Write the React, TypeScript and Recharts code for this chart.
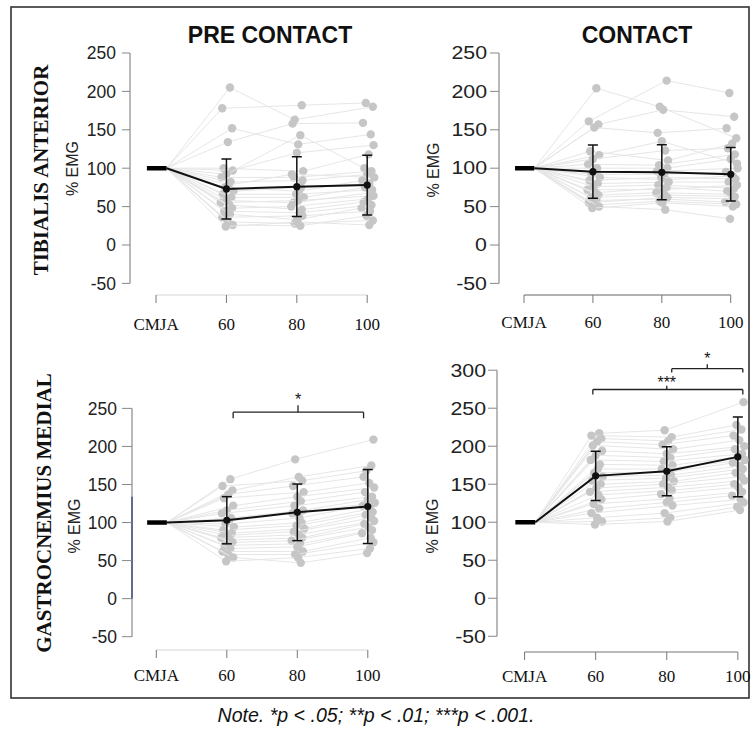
import React from "react";
import {
  ComposedChart,
  ReferenceDot,
  ReferenceLine,
  Scatter,
  XAxis,
  YAxis,
} from "recharts";

// ---- data ----
const X_LABELS = ["CMJA", "60", "80", "100"];
const Y_TICKS = [-50, 0, 50, 100, 150, 200, 250];
const Y_TICKS_GM_CON = [-50, 0, 50, 100, 150, 200, 250, 300];

// individual subjects (% EMG relative to CMJA = 100)
const TA_PRE_60 = [205, 178, 152, 134, 100, 97, 92, 88, 82, 78, 75, 70, 66, 62, 58, 55, 52, 48, 44, 40, 36, 30, 26, 24];
const TA_PRE_80 = [163, 182, 131, 158, 96, 120, 143, 88, 84, 92, 70, 75, 66, 62, 55, 58, 46, 50, 42, 33, 38, 28, 25, 30];
const TA_PRE_100 = [180, 185, 144, 159, 118, 130, 100, 96, 92, 88, 84, 80, 72, 75, 68, 64, 56, 60, 52, 48, 44, 32, 38, 26];

const TA_CON_60 = [204, 161, 157, 153, 122, 117, 112, 105, 100, 96, 92, 88, 84, 80, 76, 72, 68, 65, 62, 58, 55, 52, 50, 48];
const TA_CON_80 = [180, 214, 176, 146, 110, 135, 123, 104, 100, 96, 92, 85, 88, 82, 78, 72, 75, 68, 65, 60, 62, 57, 46, 55];
const TA_CON_100 = [139, 198, 167, 152, 132, 106, 126, 118, 112, 100, 95, 90, 86, 82, 74, 78, 70, 66, 63, 56, 60, 53, 34, 50];

const GM_PRE_60 = [157, 148, 142, 137, 132, 122, 116, 112, 106, 102, 98, 94, 90, 86, 83, 80, 77, 74, 70, 66, 62, 58, 54, 49];
const GM_PRE_80 = [183, 155, 160, 148, 140, 134, 128, 122, 116, 112, 106, 100, 96, 92, 88, 84, 80, 76, 72, 68, 62, 58, 47, 54];
const GM_PRE_100 = [209, 168, 175, 160, 152, 146, 140, 134, 130, 126, 122, 118, 114, 110, 106, 102, 98, 94, 90, 86, 80, 74, 60, 66];

const GM_CON_60 = [217, 214, 210, 206, 201, 194, 188, 182, 176, 170, 165, 160, 155, 150, 145, 140, 136, 130, 124, 118, 112, 106, 101, 97];
const GM_CON_80 = [221, 212, 207, 202, 196, 190, 185, 180, 175, 170, 166, 162, 158, 154, 150, 146, 142, 137, 131, 126, 122, 112, 106, 101];
const GM_CON_100 = [258, 228, 222, 214, 208, 200, 196, 190, 186, 182, 178, 174, 170, 165, 160, 155, 150, 146, 140, 135, 130, 126, 120, 116];

// horizontal spread of the grey dots (category units)
const JITTER_60 = [0.05, -0.06, 0.08, 0.02, -0.04, 0.09, 0.0, -0.07, 0.06, 0.03, -0.02, 0.1, -0.05, 0.07, 0.01, -0.08, 0.04, 0.08, -0.03, 0.05, -0.06, 0.02, 0.09, -0.01];
const JITTER_80 = [-0.03, 0.07, 0.02, -0.06, 0.09, 0.0, 0.05, -0.04, 0.08, -0.07, 0.03, 0.06, -0.01, 0.1, -0.05, 0.02, 0.07, -0.08, 0.04, 0.0, 0.08, -0.03, 0.05, 0.01];
const JITTER_100 = [0.08, -0.02, 0.05, -0.06, 0.02, 0.09, -0.04, 0.06, 0.0, 0.1, -0.07, 0.03, 0.07, -0.03, 0.05, 0.09, -0.05, 0.01, 0.06, -0.08, 0.04, 0.08, -0.01, 0.03];

// group mean and SD at 60 / 80 / 100
const TA_PRE_MEAN = [73, 76, 78];
const TA_PRE_SD = [39, 39, 39];
const TA_CON_MEAN = [95.5, 94.6, 92];
const TA_CON_SD = [34.7, 35.8, 34.8];
const GM_PRE_MEAN = [103, 113.4, 121];
const GM_PRE_SD = [31, 37.2, 48.6];
const GM_CON_MEAN = [161, 167, 186];
const GM_CON_SD = [32.5, 32.2, 52.6];

type Bracket = { x1: number; x2: number; xc: number; y: number; drop: number; rise: number; label: string; labelY: number };

const GM_PRE_BRACKETS: Bracket[] = [
  { x1: 1.09, x2: 2.94, xc: 2.01, y: 245, drop: 8, rise: 9, label: "*", labelY: 262 },
];
const GM_CON_BRACKETS: Bracket[] = [
  { x1: 0.96, x2: 3.07, xc: 2.0, y: 274.6, drop: 6.6, rise: 5, label: "***", labelY: 284 },
  { x1: 2.07, x2: 3.07, xc: 2.57, y: 302, drop: 5, rise: 6, label: "*", labelY: 316 },
];

const SANS = "'Liberation Sans', Arial, sans-serif";
const SERIF = "'Liberation Serif', 'Times New Roman', serif";

type PanelCfg = {
  plotLeft: number;
  plotTop: number;
  plotW: number;
  plotH: number;
  xDomain: [number, number];
  yDomain: [number, number];
  yTicks: number[];
  v60: number[];
  v80: number[];
  v100: number[];
  mean: number[];
  sd: number[];
  brackets: Bracket[];
  yTickSize: number;
  yTickMargin: number;
  xTickMargin: number;
  labelStretch: number;
  xAxisColor: string;
  blueMark?: boolean;
};

const LINE_START = 0.15;
const BAR_LEFT = -0.13;
const CAP_PX = 5;

function makeYTick(sx: number) {
  return (props: any) => {
    const { x, y, payload } = props;
    return (
      <text
        transform={`translate(${x},${y}) scale(${sx},1)`}
        textAnchor="end"
        dy="0.36em"
        fontSize={17.5}
        fontFamily={SANS}
        fill="#222"
      >
        {payload.value}
      </text>
    );
  };
}

const greyDot = (p: any) =>
  p.payload.x > 0.5 ? <circle cx={p.cx} cy={p.cy} r={4.2} fill="#c6c6c6" /> : <g />;
const noDot = () => <g />;
const meanDot = (p: any) => <circle cx={p.cx} cy={p.cy} r={3.6} fill="#111" />;

function Panel({ cfg }: { cfg: PanelCfg }) {
  const LEFT = 70;
  const TOP = 10;
  const RIGHT = 10;
  const XH = 45;
  const w = cfg.plotW + LEFT + RIGHT;
  const h = cfg.plotH + TOP + XH;
  const subjects = cfg.v60.map((_, i) => [
    { x: LINE_START, y: 100 },
    { x: 1 + JITTER_60[i], y: cfg.v60[i] },
    { x: 2 + JITTER_80[i], y: cfg.v80[i] },
    { x: 3 + JITTER_100[i], y: cfg.v100[i] },
  ]);
  const meanLine = [{ x: LINE_START, y: 100 }, ...cfg.mean.map((m, i) => ({ x: i + 1, y: m }))];
  const meanPts = cfg.mean.map((m, i) => ({ x: i + 1, y: m }));
  const [xmin, xmax] = cfg.xDomain;
  const [ymin] = cfg.yDomain;
  const cap = CAP_PX / (cfg.plotW / (xmax - xmin));
  const topTick = cfg.yTicks[cfg.yTicks.length - 1];
  const errSegs: { x: number; y: number }[][] = [];
  cfg.mean.forEach((m, i) => {
    const x = i + 1;
    const lo = m - cfg.sd[i];
    const hi = m + cfg.sd[i];
    errSegs.push([{ x, y: lo }, { x, y: hi }]);
    errSegs.push([{ x: x - cap, y: hi }, { x: x + cap, y: hi }]);
    errSegs.push([{ x: x - cap, y: lo }, { x: x + cap, y: lo }]);
  });

  return (
    <div style={{ position: "absolute", left: cfg.plotLeft - LEFT, top: cfg.plotTop - TOP }}>
      <ComposedChart width={w} height={h} margin={{ top: TOP, right: RIGHT, left: 0, bottom: 0 }}>
        <XAxis
          type="number"
          dataKey="x"
          domain={cfg.xDomain}
          allowDataOverflow
          ticks={[0, 1, 2, 3]}
          tickFormatter={(v: number) => X_LABELS[v]}
          axisLine={false}
          tickLine={{ stroke: "#777" }}
          tickSize={8}
          tickMargin={cfg.xTickMargin}
          height={XH}
          tick={{ fontFamily: SERIF, fontSize: 17, fill: "#111" }}
          interval={0}
        />
        <YAxis
          type="number"
          dataKey="y"
          domain={cfg.yDomain}
          allowDataOverflow
          ticks={cfg.yTicks}
          axisLine={false}
          tickLine={{ stroke: "#888" }}
          tickSize={cfg.yTickSize}
          tickMargin={cfg.yTickMargin}
          width={LEFT}
          tick={makeYTick(cfg.labelStretch)}
          interval={0}
        />
        <ReferenceLine
          segment={[{ x: xmin, y: -50 }, { x: xmin, y: topTick }]}
          stroke="#8a8a8a"
          strokeWidth={1.2}
          ifOverflow="visible"
        />
        {cfg.blueMark && (
          <ReferenceLine
            segment={[{ x: xmin, y: 0 }, { x: xmin, y: 134 }]}
            stroke="#44557a"
            strokeWidth={1.5}
            ifOverflow="visible"
          />
        )}
        <ReferenceLine
          segment={[{ x: 0, y: ymin }, { x: 3, y: ymin }]}
          stroke={cfg.xAxisColor}
          strokeWidth={1.2}
          ifOverflow="visible"
        />
        {subjects.map((d, i) => (
          <Scatter
            key={"s" + i}
            data={d}
            line={{ stroke: "#e6e6e6", strokeWidth: 1 }}
            shape={greyDot}
            isAnimationActive={false}
          />
        ))}
        <Scatter data={meanLine} line={{ stroke: "#111", strokeWidth: 2 }} shape={noDot} isAnimationActive={false} />
        <Scatter
          data={[{ x: BAR_LEFT, y: 100 }, { x: LINE_START, y: 100 }]}
          line={{ stroke: "#000", strokeWidth: 4.5 }}
          shape={noDot}
          isAnimationActive={false}
        />
        {errSegs.map((seg, i) => (
          <Scatter
            key={"e" + i}
            data={seg}
            line={{ stroke: "#111", strokeWidth: 1.5 }}
            shape={noDot}
            isAnimationActive={false}
          />
        ))}
        <Scatter data={meanPts} shape={meanDot} isAnimationActive={false} />
        {cfg.brackets.map((b, i) => (
          <React.Fragment key={"b" + i}>
            <ReferenceLine segment={[{ x: b.x1, y: b.y }, { x: b.x2, y: b.y }]} stroke="#222" strokeWidth={1.3} ifOverflow="visible" />
            <ReferenceLine segment={[{ x: b.x1, y: b.y }, { x: b.x1, y: b.y - b.drop }]} stroke="#222" strokeWidth={1.3} ifOverflow="visible" />
            <ReferenceLine segment={[{ x: b.x2, y: b.y }, { x: b.x2, y: b.y - b.drop }]} stroke="#222" strokeWidth={1.3} ifOverflow="visible" />
            <ReferenceLine segment={[{ x: b.xc, y: b.y }, { x: b.xc, y: b.y + b.rise }]} stroke="#222" strokeWidth={1.3} ifOverflow="visible" />
            <ReferenceDot
              x={b.xc}
              y={b.labelY}
              r={0}
              fill="none"
              stroke="none"
              ifOverflow="visible"
              label={{ value: b.label, position: "center", fontSize: 16, fill: "#111", fontFamily: SANS }}
            />
          </React.Fragment>
        ))}
      </ComposedChart>
    </div>
  );
}

const PANELS: PanelCfg[] = [
  {
    plotLeft: 130, plotTop: 45, plotW: 254.8, plotH: 250,
    xDomain: [-0.37, 3.25], yDomain: [-65.1, 260.4], yTicks: Y_TICKS,
    v60: TA_PRE_60, v80: TA_PRE_80, v100: TA_PRE_100, mean: TA_PRE_MEAN, sd: TA_PRE_SD,
    brackets: [], yTickSize: 8, yTickMargin: 6, xTickMargin: 15, labelStretch: 1.0, xAxisColor: "#d6d6d6",
  },
  {
    plotLeft: 499.3, plotTop: 45, plotW: 245.5, plotH: 250,
    xDomain: [-0.363, 3.2], yDomain: [-65.1, 260.4], yTicks: Y_TICKS,
    v60: TA_CON_60, v80: TA_CON_80, v100: TA_CON_100, mean: TA_CON_MEAN, sd: TA_CON_SD,
    brackets: [], yTickSize: 9, yTickMargin: 3, xTickMargin: 13, labelStretch: 1.22, xAxisColor: "#666",
  },
  {
    plotLeft: 131.7, plotTop: 380, plotW: 249.9, plotH: 270,
    xDomain: [-0.345, 3.2], yDomain: [-67.5, 287.3], yTicks: Y_TICKS,
    v60: GM_PRE_60, v80: GM_PRE_80, v100: GM_PRE_100, mean: GM_PRE_MEAN, sd: GM_PRE_SD,
    brackets: GM_PRE_BRACKETS, yTickSize: 10, yTickMargin: 5, xTickMargin: 11, labelStretch: 1.0, xAxisColor: "#d6d6d6",
    blueMark: true,
  },
  {
    plotLeft: 496.7, plotTop: 335.7, plotW: 251.5, plotH: 316,
    xDomain: [-0.388, 3.15], yDomain: [-70.7, 345], yTicks: Y_TICKS_GM_CON,
    v60: GM_CON_60, v80: GM_CON_80, v100: GM_CON_100, mean: GM_CON_MEAN, sd: GM_CON_SD,
    brackets: GM_CON_BRACKETS, yTickSize: 9, yTickMargin: 2, xTickMargin: 10, labelStretch: 1.22, xAxisColor: "#777",
  },
];

export default function App() {
  return (
    <div style={{ position: "absolute", left: 0, top: 0, width: 753, height: 733, background: "#fff" }}>
      <svg width={753} height={733} style={{ position: "absolute", left: 0, top: 0 }}>
        <rect x={11} y={7} width={738} height={691} fill="none" stroke="#333" strokeWidth={1.6} />
        <text x={270} y={43} textAnchor="middle" fontFamily={SANS} fontWeight="bold" fontSize={23} fill="#111">
          PRE CONTACT
        </text>
        <text x={637} y={43} textAnchor="middle" fontFamily={SANS} fontWeight="bold" fontSize={23} fill="#111">
          CONTACT
        </text>
        <text transform="translate(41,170) rotate(-90)" textAnchor="middle" dominantBaseline="central" fontFamily={SERIF} fontWeight="bold" fontSize={21} fill="#111">
          TIBIALIS ANTERIOR
        </text>
        <text transform="translate(44,513) rotate(-90)" textAnchor="middle" dominantBaseline="central" fontFamily={SERIF} fontWeight="bold" fontSize={21} fill="#111">
          GASTROCNEMIUS MEDIAL
        </text>
        {[
          [72.5, 168.5],
          [433, 170],
          [74, 526],
          [432.5, 526],
        ].map(([x, y], i) => (
          <text key={i} transform={`translate(${x},${y}) rotate(-90)`} textAnchor="middle" dominantBaseline="central" fontFamily={SANS} fontSize={16} fill="#222">
            % EMG
          </text>
        ))}
        <text
          x={376}
          y={722}
          textAnchor="middle"
          fontFamily="'Liberation Sans Narrow', 'Arial Narrow', 'Liberation Sans', sans-serif"
          fontStyle="italic"
          fontSize={20}
          fill="#111"
          textLength={317}
          lengthAdjust="spacingAndGlyphs"
        >
          Note. *p &lt; .05; **p &lt; .01; ***p &lt; .001.
        </text>
      </svg>
      {PANELS.map((cfg, i) => (
        <Panel key={i} cfg={cfg} />
      ))}
    </div>
  );
}
